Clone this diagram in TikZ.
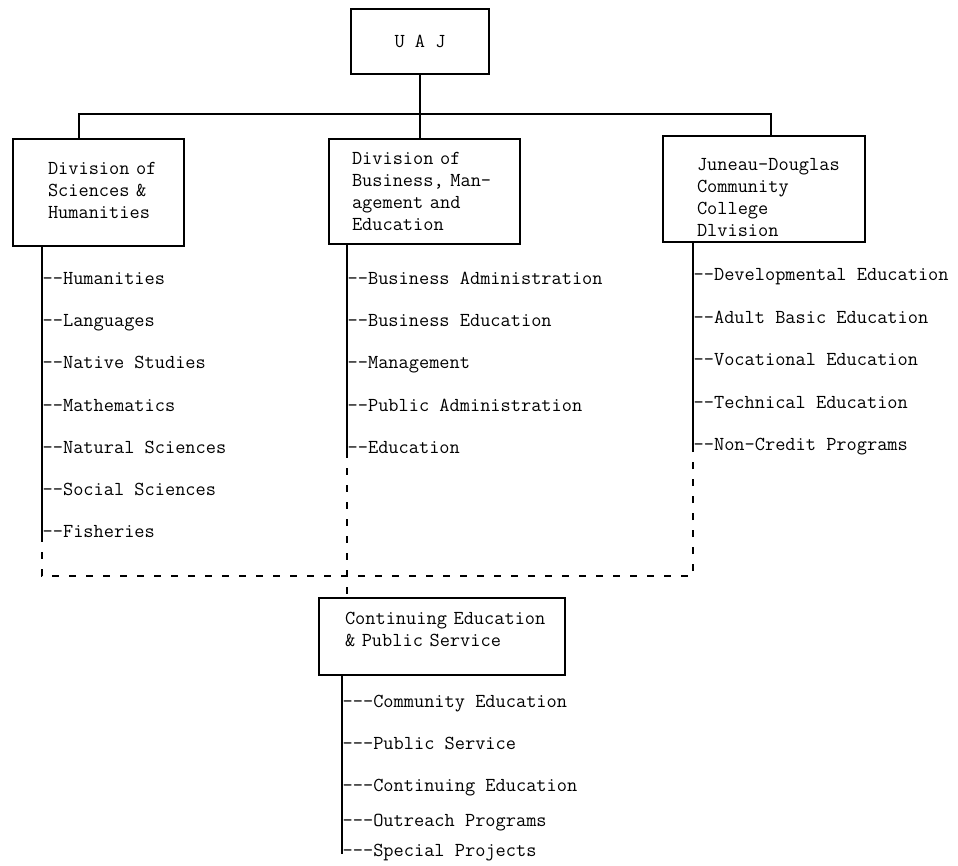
\documentclass[tikz,border=0pt]{standalone}
\usepackage{fontspec}
\newcommand\orgfont{\fontsize{19.8}{22}\selectfont\ttfamily}

\begin{document}
\begin{tikzpicture}[
  x=1pt, y=-1pt,
  line width=1.4pt,
  unit/.style={draw, align=left, inner ysep=0pt, text height=24pt, font=\orgfont},
  item/.style={anchor=west, inner sep=0pt, text height=0.7em, text depth=0.2em, font=\orgfont},
  link/.style={dash pattern=on 7pt off 10pt}
]
\useasboundingbox (0,0) rectangle (958,866);

% top of the chart
\node[draw, font=\orgfont, inner sep=0pt, minimum width=138, minimum height=65] (uaj) at (420,41.5) {U A J};

% the three divisions
\node[unit, inner xsep=35, text width=101, text depth=59pt, minimum height=107] (sci) at (98.5,192.5) {Division~of\\Sciences~\&\\Humanities};
\node[unit, inner xsep=23, text width=145, text depth=77pt, minimum height=105] (bme) at (424.5,191.5) {Division of\\Business,~Man-\\agement and\\Education};
\node[unit, inner xsep=34, text width=134, text depth=60pt, minimum height=106] (jdcc) at (764,189) {Juneau-Douglas\\Community\\College\\Dlvision};

% continuing education
\node[unit, inner xsep=26, text width=194, text depth=49pt, minimum height=77] (ceps) at (442,636.5) {Continuing~Education\\\& Public Service};

% programs
\node[item] (hum) at (42,282) {--Humanities};
\node[item] (lang) at (42,324) {--Languages};
\node[item] (nat) at (42,366) {--Native Studies};
\node[item] (math) at (42,409) {--Mathematics};
\node[item] (natsci) at (42,451) {--Natural Sciences};
\node[item] (soc) at (42,493) {--Social Sciences};
\node[item] (fish) at (42,535) {--Fisheries};

\node[item] (badm) at (347,282) {--Business Administration};
\node[item] (bedu) at (347,324) {--Business Education};
\node[item] (mgmt) at (347,366) {--Management};
\node[item] (padm) at (347,409) {--Public Administration};
\node[item] (edu) at (347,451) {--Education};

\node[item] (dev) at (693,278) {--Developmental Education};
\node[item] (abe) at (693,321) {--Adult Basic Education};
\node[item] (voc) at (693,363) {--Vocational Education};
\node[item] (tech) at (693,406) {--Technical Education};
\node[item] (ncp) at (693,448) {--Non-Credit Programs};

\node[item] (comm) at (342,705) {---Community Education};
\node[item] (pserv) at (342,747) {---Public Service};
\node[item] (cont) at (342,789) {---Continuing Education};
\node[item] (outr) at (342,824) {---Outreach Programs};
\node[item] (spec) at (342,854) {---Special Projects};

% solid lines
\coordinate (hl) at (79,114);
\coordinate (hr) at (771,114);
\draw (uaj.south) -- (uaj.south |- bme.north);
\draw (sci.north -| hl) -- (hl) -- (hr) -- (jdcc.north -| hr);
\draw (sci.south -| hum.west) -- (fish.west);
\draw (bme.south -| badm.west) -- (edu.west);
\draw (jdcc.south -| dev.west) -- (ncp.west);
\draw (ceps.south -| comm.west) -- (spec.west);

% dashed links
\coordinate (jl) at (42,576);
\coordinate (jr) at (693,576);
\draw[link] (fish.west) -- (jl) -- (jr) -- (ncp.west);
\draw[link] (edu.west) -- (edu.west |- ceps.north);
\end{tikzpicture}
\end{document}
